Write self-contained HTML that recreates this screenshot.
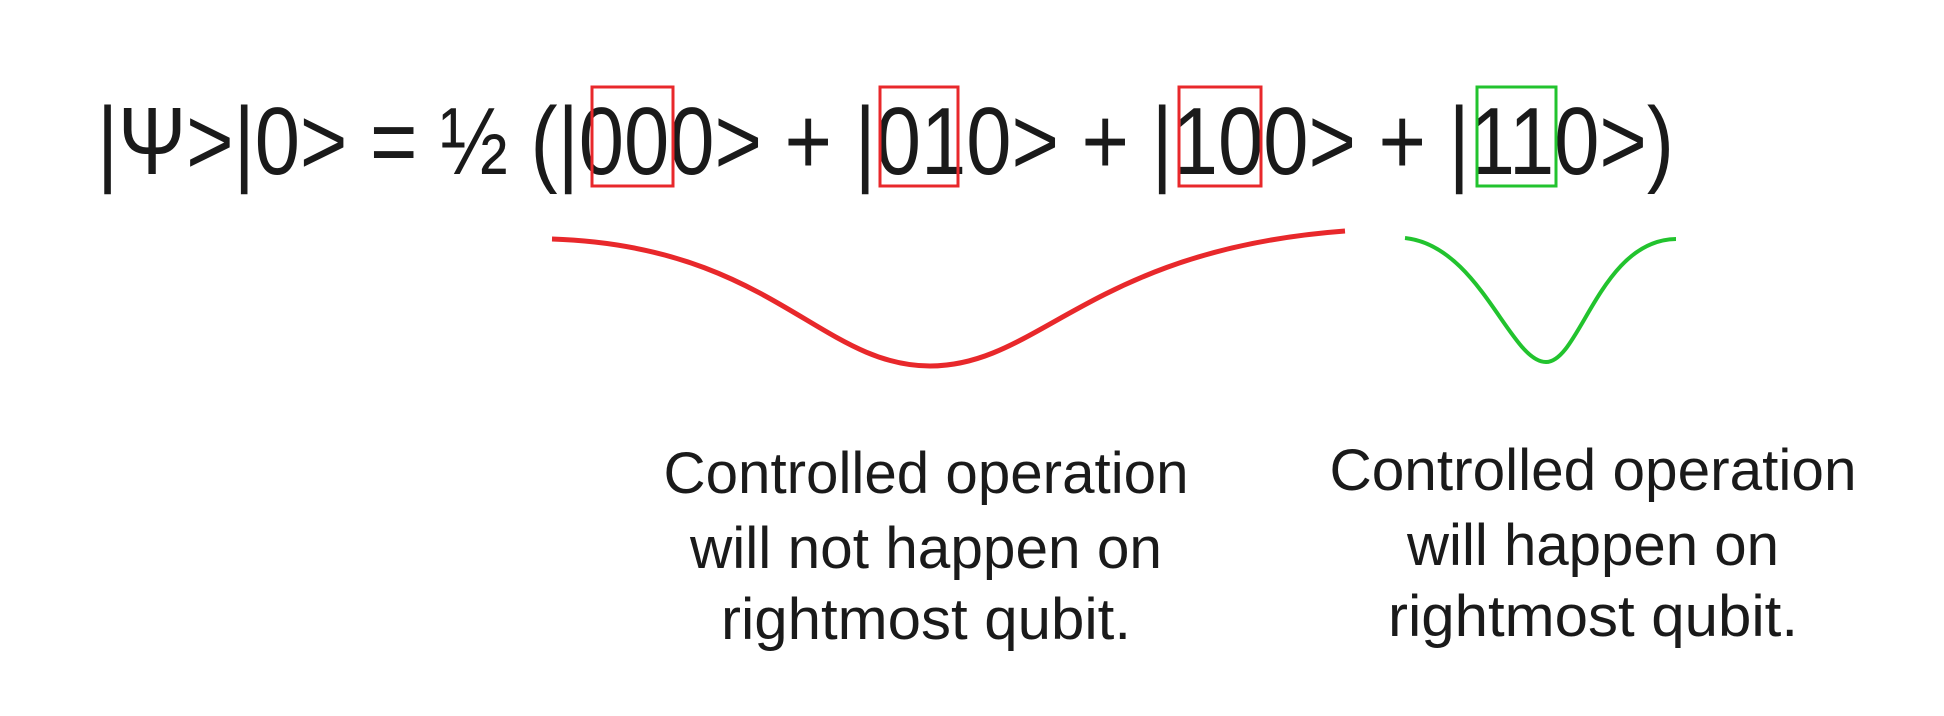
<!DOCTYPE html>
<html><head><meta charset="utf-8"><style>
html,body{margin:0;padding:0;background:#fff;}
svg{display:block;}
text{font-family:"Liberation Sans",sans-serif;fill:#1a1a1a;}
</style></head><body>
<svg width="1944" height="716" viewBox="0 0 1944 716" xmlns="http://www.w3.org/2000/svg">
<text x="97" y="174" font-size="96" textLength="1577" lengthAdjust="spacingAndGlyphs">|Ψ&gt;|0&gt; = ½ (|000&gt; + |010&gt; + |100&gt; + |110&gt;)</text>
<g fill="none" stroke-width="3">
<rect x="592" y="87" width="81" height="99" stroke="#e8282b"/>
<rect x="880" y="87" width="78" height="99" stroke="#e8282b"/>
<rect x="1179" y="87" width="82" height="99" stroke="#e8282b"/>
<rect x="1477" y="87" width="79" height="99" stroke="#22c32e"/>
<path d="M552 239 C770 246 820 366 930 366 C1040 366 1090 250 1345 231" stroke="#e8282b" stroke-width="5"/>
<path d="M1405 238 C1480 246 1510 362 1546 362 C1580 362 1600 240 1676 239" stroke="#22c32e" stroke-width="4"/>
</g>
<g font-size="58" text-anchor="middle">
<text x="926" y="493" textLength="525" lengthAdjust="spacingAndGlyphs">Controlled operation</text>
<text x="926" y="568" textLength="472" lengthAdjust="spacingAndGlyphs">will not happen on</text>
<text x="926" y="639" textLength="410" lengthAdjust="spacingAndGlyphs">rightmost qubit.</text>
<text x="1593" y="490" textLength="527" lengthAdjust="spacingAndGlyphs">Controlled operation</text>
<text x="1593" y="565" textLength="372" lengthAdjust="spacingAndGlyphs">will happen on</text>
<text x="1593" y="636" textLength="410" lengthAdjust="spacingAndGlyphs">rightmost qubit.</text>
</g>
</svg>
</body></html>
